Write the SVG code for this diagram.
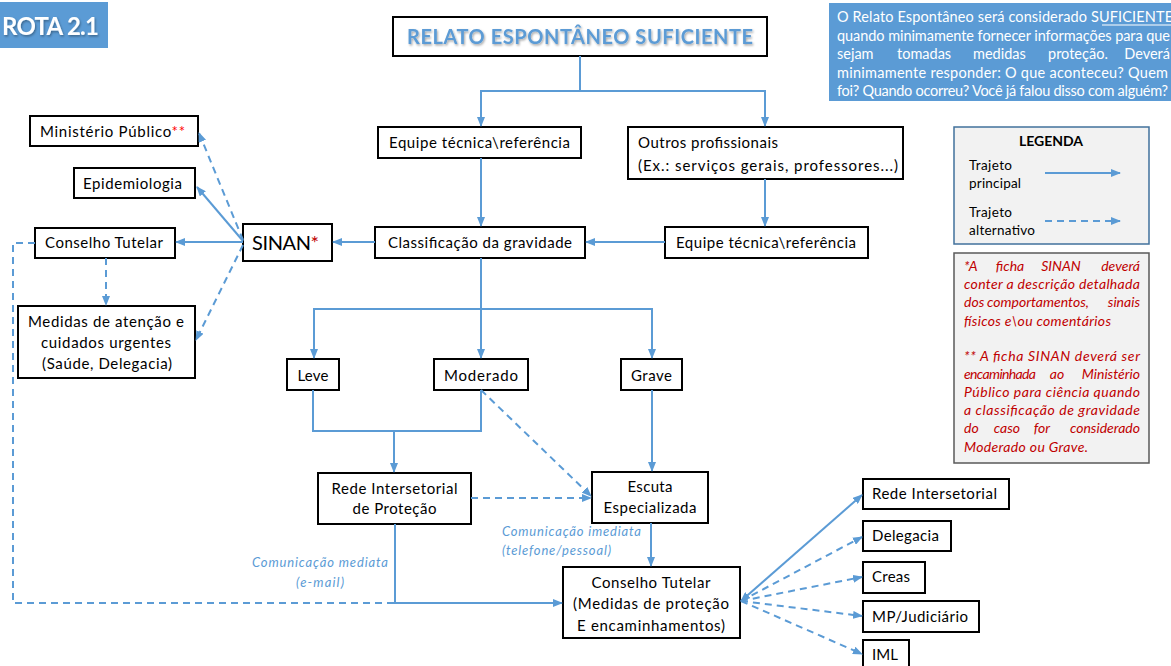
<svg xmlns="http://www.w3.org/2000/svg" width="1171" height="666" viewBox="0 0 1171 666">
<style>
.box{fill:#fff;stroke:#000;stroke-width:2}
.t{font-family:Lato,"Open Sans","Liberation Sans",sans-serif;font-size:15px;fill:#000}
.m{text-anchor:middle}
.e{text-anchor:end}
.c{fill:none;stroke:#5B9BD5;stroke-width:2}
.d{stroke-dasharray:7,5}
.lbl{font-family:Lato,"Open Sans","Liberation Sans",sans-serif;font-size:13px;font-style:italic;fill:#5B9BD5}
.red{font-family:Lato,"Open Sans","Liberation Sans",sans-serif;font-size:14px;font-style:italic;fill:#C00000}
.wt{font-family:Lato,"Open Sans","Liberation Sans",sans-serif;font-size:14.5px;fill:#fff}
</style>
<defs>
<marker id="ar" viewBox="0 0 10 8" refX="9" refY="4" markerWidth="10" markerHeight="8" markerUnits="userSpaceOnUse" orient="auto-start-reverse">
<path d="M0,0 L10,4 L0,8 z" fill="#5B9BD5"/>
</marker>
<filter id="sh" x="-5%" y="-20%" width="110%" height="150%">
<feDropShadow dx="1" dy="1.5" stdDeviation="0.8" flood-color="#000" flood-opacity="0.35"/>
</filter>
</defs>
<rect width="1171" height="666" fill="#fff"/>

<g id="rota">
<rect x="-2" y="2" width="110" height="46" fill="#5B9BD5"/>
<text x="99" y="35" text-anchor="end" textLength="97" filter="url(#sh)" style="font-family:Lato,'Liberation Sans',sans-serif;font-size:24px;font-weight:bold;fill:#fff">ROTA 2.1</text>
</g>

<g id="info">
<rect x="829" y="3" width="350" height="98" fill="#5B9BD5"/>
<text class="wt" x="837" y="22" textLength="336">O Relato Espontâneo será considerado SUFICIENTE</text>
<line x1="1102" y1="25" x2="1173" y2="25" stroke="#fff" stroke-width="1"/>
<text class="wt" x="837" y="40.5" textLength="333">quando minimamente fornecer informações para que</text>
<text class="wt" y="59"><tspan x="837">sejam</tspan><tspan x="897">tomadas</tspan><tspan x="973">medidas</tspan><tspan x="1048">proteção.</tspan></text>
<text class="wt e" x="1170" y="59">Deverá</text>
<text class="wt" x="837" y="77.5" textLength="331">minimamente responder: O que aconteceu? Quem</text>
<text class="wt" x="837" y="96" textLength="331">foi? Quando ocorreu? Você já falou disso com alguém?</text>
</g>

<g id="relato">
<rect class="box" x="393" y="17" width="374" height="39" stroke-width="2.5"/>
<text x="580" y="44" text-anchor="middle" textLength="346" filter="url(#sh)" style="font-family:Lato,'Liberation Sans',sans-serif;font-size:20px;font-weight:bold;fill:#5B9BD5">RELATO ESPONTÂNEO SUFICIENTE</text>
</g>

<g id="equipe1">
<rect class="box" x="378" y="127" width="203" height="31"/>
<text class="t m" x="479.5" y="148" textLength="181">Equipe técnica\referência</text>
</g>
<g id="outros">
<rect class="box" x="628" y="127" width="275" height="52"/>
<text class="t" x="638" y="148" textLength="140">Outros profissionais</text>
<text class="t" x="638" y="171" textLength="260">(Ex.: serviços gerais, professores...)</text>
</g>
<g id="classificacao">
<rect class="box" x="375" y="227" width="210" height="31"/>
<text class="t m" x="480" y="248" textLength="184">Classificação da gravidade</text>
</g>
<g id="equipe2">
<rect class="box" x="665" y="227" width="203" height="31"/>
<text class="t m" x="766" y="248" textLength="180">Equipe técnica\referência</text>
</g>
<g id="sinan">
<rect class="box" x="243" y="224" width="89" height="37"/>
<text class="t m" x="285.5" y="250" textLength="67" style="font-size:20px">SINAN<tspan fill="#C00000">*</tspan></text>
</g>
<g id="ministerio">
<rect class="box" x="30" y="116" width="168" height="30"/>
<text class="t m" x="112.5" y="137" textLength="145">Ministério Público<tspan fill="#FF0000">**</tspan></text>
</g>
<g id="epidemiologia">
<rect class="box" x="74" y="168" width="121" height="30"/>
<text class="t m" x="132.5" y="189" textLength="99">Epidemiologia</text>
</g>
<g id="conselho1">
<rect class="box" x="35" y="228" width="140" height="30"/>
<text class="t m" x="104" y="248" textLength="118">Conselho Tutelar</text>
</g>
<g id="medidas">
<rect class="box" x="18" y="306" width="177" height="72"/>
<text class="t m" x="106" y="327" textLength="156">Medidas de atenção e</text>
<text class="t m" x="106" y="348" textLength="130">cuidados urgentes</text>
<text class="t m" x="107" y="369" textLength="130">(Saúde, Delegacia)</text>
</g>
<g id="leve">
<rect class="box" x="287" y="359" width="52" height="31"/>
<text class="t m" x="313" y="381" textLength="31">Leve</text>
</g>
<g id="moderado">
<rect class="box" x="434" y="359" width="94" height="31"/>
<text class="t m" x="481" y="381" textLength="74">Moderado</text>
</g>
<g id="grave">
<rect class="box" x="621" y="359" width="61" height="31"/>
<text class="t m" x="651.5" y="381" textLength="41">Grave</text>
</g>
<g id="rede">
<rect class="box" x="318" y="473" width="153" height="51"/>
<text class="t m" x="394.5" y="494" textLength="126">Rede Intersetorial</text>
<text class="t m" x="394.5" y="514" textLength="84">de Proteção</text>
</g>
<g id="escuta">
<rect class="box" x="592" y="472" width="116" height="51"/>
<text class="t m" x="650" y="492" textLength="45">Escuta</text>
<text class="t m" x="650" y="513" textLength="93">Especializada</text>
</g>
<g id="conselho2">
<rect class="box" x="563" y="567" width="177" height="71"/>
<text class="t m" x="651" y="588" textLength="119">Conselho Tutelar</text>
<text class="t m" x="651" y="609" textLength="156">(Medidas de proteção</text>
<text class="t m" x="651" y="631" textLength="148">E encaminhamentos)</text>
</g>
<g id="redeInter">
<rect class="box" x="863" y="479" width="146" height="30"/>
<text class="t" x="872" y="499" textLength="125">Rede Intersetorial</text>
</g>
<g id="delegacia">
<rect class="box" x="863" y="521" width="88" height="30"/>
<text class="t" x="872" y="541" textLength="67">Delegacia</text>
</g>
<g id="creas">
<rect class="box" x="863" y="562" width="62" height="31"/>
<text class="t" x="872" y="582" textLength="38">Creas</text>
</g>
<g id="mp">
<rect class="box" x="863" y="601" width="116" height="31"/>
<text class="t" x="872" y="622" textLength="96">MP/Judiciário</text>
</g>
<g id="iml">
<rect class="box" x="863" y="640" width="46" height="30"/>
<text class="t" x="872" y="660" textLength="26">IML</text>
</g>

<g id="legenda">
<rect x="954" y="127" width="195" height="117" fill="#F2F2F2" stroke="#41719C" stroke-width="1.5"/>
<text x="1051" y="146" text-anchor="middle" style="font-family:Lato,'Liberation Sans',sans-serif;font-size:14px;font-weight:bold;fill:#000">LEGENDA</text>
<text class="t" x="969" y="170" textLength="43" style="font-size:13.5px">Trajeto</text>
<text class="t" x="969" y="188" textLength="52" style="font-size:13.5px">principal</text>
<text class="t" x="969" y="217" textLength="43" style="font-size:13.5px">Trajeto</text>
<text class="t" x="969" y="235" textLength="66" style="font-size:13.5px">alternativo</text>
<path class="c" d="M1045,173 H1120" marker-end="url(#ar)" stroke-width="1.5"/>
<path class="c d" d="M1045,221 H1120" marker-end="url(#ar)" stroke-width="1.5"/>
</g>

<g id="nota">
<rect x="954" y="253" width="195" height="210" fill="#F2F2F2" stroke="#595959" stroke-width="1.5"/>
<text class="red" x="964" y="271">*A</text>
<text class="red m" x="1010" y="271">ficha</text>
<text class="red m" x="1061" y="271">SINAN</text>
<text class="red e" x="1140" y="271">deverá</text>
<text class="red" x="964" y="289" textLength="176">conter a descrição detalhada</text>
<text class="red" x="964" y="307">dos</text>
<text class="red m" x="1038" y="307">comportamentos,</text>
<text class="red e" x="1140" y="307">sinais</text>
<text class="red" x="964" y="326" textLength="147">físicos e\ou comentários</text>
<text class="red" x="964" y="361" textLength="176">** A ficha SINAN deverá ser</text>
<text class="red" x="964" y="379" textLength="72">encaminhada</text>
<text class="red m" x="1057" y="379">ao</text>
<text class="red e" x="1140" y="379">Ministério</text>
<text class="red" x="964" y="397" textLength="176">Público para ciência quando</text>
<text class="red" x="964" y="415" textLength="176">a classificação de gravidade</text>
<text class="red" x="964" y="433">do</text>
<text class="red m" x="1007" y="433">caso</text>
<text class="red m" x="1042" y="433">for</text>
<text class="red e" x="1140" y="433">considerado</text>
<text class="red" x="964" y="452" textLength="124">Moderado ou Grave.</text>
</g>

<g id="connectors">
<path class="c" d="M580,56 V91 H481 V126" marker-end="url(#ar)"/>
<path class="c" d="M580,91 H765 V126" marker-end="url(#ar)"/>
<path class="c" d="M481,158 V226" marker-end="url(#ar)"/>
<path class="c" d="M765,179 V226" marker-end="url(#ar)"/>
<path class="c" d="M665,242 H586" marker-end="url(#ar)"/>
<path class="c" d="M375,242 H333" marker-end="url(#ar)"/>
<path class="c" d="M243,242 H176" marker-end="url(#ar)"/>
<path class="c" d="M243,241 L197,187" marker-end="url(#ar)"/>
<path class="c d" d="M243,240 L199,133" marker-end="url(#ar)"/>
<path class="c d" d="M243,245 L196,340" marker-end="url(#ar)"/>
<path class="c d" d="M106,258 V305" marker-end="url(#ar)"/>
<path class="c d" d="M35,243 H13 V603 H395"/>
<path class="c" d="M395,524 V603 H562" marker-end="url(#ar)"/>
<path class="c" d="M481,258 V309"/>
<path class="c" d="M314,358 V309 H652 V358" marker-start="url(#ar)" marker-end="url(#ar)"/>
<path class="c" d="M481,309 V358" marker-end="url(#ar)"/>
<path class="c" d="M313,390 V431 H481 V390"/>
<path class="c" d="M394,431 V472" marker-end="url(#ar)"/>
<path class="c d" d="M481,390 L591,496" marker-end="url(#ar)"/>
<path class="c d" d="M471,498 H591" marker-end="url(#ar)"/>
<path class="c" d="M652,390 V471" marker-end="url(#ar)"/>
<path class="c" d="M651,523 V566" marker-end="url(#ar)"/>
<path class="c" d="M741,601 L862,495" marker-start="url(#ar)" marker-end="url(#ar)"/>
<path class="c d" d="M741,601 L862,537" marker-end="url(#ar)"/>
<path class="c d" d="M741,601 L862,577" marker-end="url(#ar)"/>
<path class="c d" d="M741,601 L862,616" marker-end="url(#ar)"/>
<path class="c d" d="M741,601 L862,654" marker-end="url(#ar)"/>
<text class="lbl" x="320" y="567" text-anchor="middle" textLength="136">Comunicação mediata</text>
<text class="lbl" x="320" y="587" text-anchor="middle" textLength="48">(e-mail)</text>
<text class="lbl" x="502" y="536" textLength="139">Comunicação imediata</text>
<text class="lbl" x="502" y="555" textLength="109">(telefone/pessoal)</text>
</g>
</svg>
